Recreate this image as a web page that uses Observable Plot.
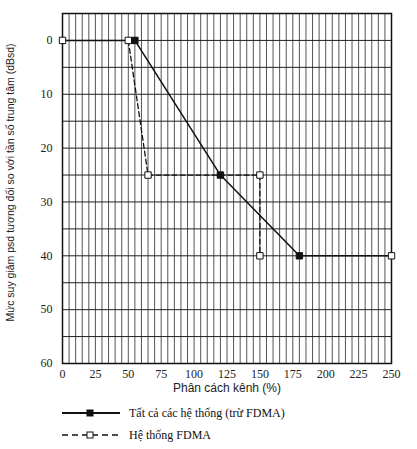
<!DOCTYPE html>
<html>
<head>
<meta charset="utf-8">
<script src="https://cdn.jsdelivr.net/npm/d3@7"></script>
<script src="https://cdn.jsdelivr.net/npm/@observablehq/plot@0.6"></script>
<style>
  body { margin: 0; background: #fff; }
  #legend { font-family: "Liberation Serif", serif; font-size: 12px; color: #111; margin-left: 62px; }
  #legend div { display: flex; align-items: center; height: 22px; }
  #legend svg { margin-right: 9px; }
</style>
</head>
<body>
<div id="chart"></div>
<div id="legend"></div>
<script>
// duong lien: tat ca cac he thong (tru FDMA)
const solidX = [0, 55, 120, 180, 250]
const solidY = [0, 0, 25, 40, 40]
const solidMark = ["open", "filled", "filled", "filled", "open"]
// duong dut: he thong FDMA
const fdmaX = [50, 65, 150, 150]
const fdmaY = [0, 25, 25, 40]

const xTicks = d3.range(0, 251, 25)
const yTicks = d3.range(0, 61, 10)
const seriesNames = ["Tất cả các hệ thống (trừ FDMA)", "Hệ thống FDMA"]

const solid = solidX.map((x, i) => ({x, y: solidY[i], m: solidMark[i]}))
const fdma = fdmaX.map((x, i) => ({x, y: fdmaY[i], m: "open"}))

let chart = Plot.plot({
  width: 417,
  height: 397,
  marginLeft: 62,
  marginRight: 26,
  marginTop: 13,
  marginBottom: 34,
  style: {fontFamily: "Liberation Serif, serif", fontSize: "12px", color: "#222", background: "transparent"},
  x: {domain: [0, 250], ticks: xTicks, tickSize: 0, tickPadding: 6, label: null},
  y: {domain: [-5, 60], reverse: true, ticks: yTicks, tickSize: 0, tickPadding: 10, label: null},
  marks: [
    Plot.gridX(d3.range(0, 251, 5), {stroke: "#555", strokeOpacity: 1, strokeWidth: 1}),
    Plot.gridY(d3.range(-5, 61, 5), {stroke: "#222", strokeOpacity: 1, strokeWidth: 1}),
    Plot.frame({stroke: "#111", strokeWidth: 1.5}),
    Plot.line(solid, {x: "x", y: "y", stroke: "#111", strokeWidth: 1.5}),
    Plot.line(fdma, {x: "x", y: "y", stroke: "#111", strokeWidth: 1.3, strokeDasharray: "5,3"}),
    Plot.dot([...fdma, ...solid], {x: "x", y: "y", symbol: "square", r: 3.6,
      fill: d => d.m === "filled" ? "#111" : "#fff", stroke: "#111", strokeWidth: 1}),
    Plot.text(["Phân cách kênh (%)"], {frameAnchor: "bottom", dy: 28, text: d => d,
      fontFamily: "Liberation Sans, sans-serif", fontSize: 12, fill: "#222"}),
    Plot.text(["Mức suy giảm psd tương đối so với tần số trung tâm (dBsd)"], {frameAnchor: "left", dx: -52, dy: -6, rotate: -90,
      textAnchor: "middle", text: d => d,
      fontFamily: "Liberation Sans, sans-serif", fontSize: 10.5, fill: "#222"})
  ]
})
d3.select('#chart').append(() => chart)

// chu giai
const legend = d3.select('#legend').style("margin-top", "5px")
seriesNames.forEach((name, i) => {
  const row = legend.append("div")
  const svg = row.append("svg").attr("width", 58).attr("height", 12)
  svg.append("line").attr("x1", 0).attr("x2", 58).attr("y1", 6).attr("y2", 6)
    .attr("stroke", "#111").attr("stroke-width", i ? 1.3 : 1.8)
    .attr("stroke-dasharray", i ? "6,4" : null)
  svg.append("rect").attr("x", 25).attr("y", 3).attr("width", 6).attr("height", 6)
    .attr("fill", i ? "#fff" : "#111").attr("stroke", "#111")
  row.append("span").text(name)
})
</script>
</body>
</html>
